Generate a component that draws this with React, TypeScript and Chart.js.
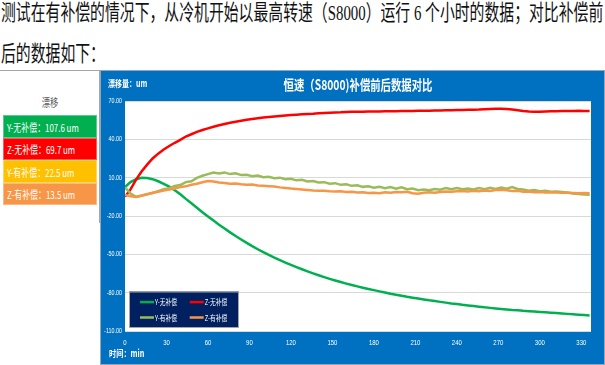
import React, { useEffect, useRef } from "react";
import { Chart, registerables } from "chart.js";

Chart.register(...registerables);

// ---------- data ----------
const MINUTES = [
  0, 4, 8, 12, 16, 20, 24, 28, 32, 36, 40, 44, 48, 52, 56, 60, 64, 68, 72, 76,
  80, 84, 88, 92, 96, 100, 104, 108, 112, 116, 120, 124, 128, 132, 136, 140,
  144, 148, 152, 156, 160, 164, 168, 172, 176, 180, 184, 188, 192, 196, 200,
  204, 208, 212, 216, 220, 224, 228, 232, 236, 240, 244, 248, 252, 256, 260,
  264, 268, 272, 276, 280, 284, 288, 292, 296, 300, 304, 308, 312, 316, 320,
  324, 328, 332, 336,
];

const Y_NO_COMP = [
  2.7, 6.5, 8.8, 9.9, 9.8, 8.8, 7.2, 5.2, 3, 0.2, -3, -6.6, -10, -13.5, -17,
  -20.3, -23.6, -26.8, -29.8, -32.8, -35.7, -38.4, -41, -43.6, -46, -48.3,
  -50.5, -52.6, -54.6, -56.5, -58.3, -60, -61.7, -63.3, -64.9, -66.4, -67.8,
  -69.2, -70.5, -71.7, -72.9, -74, -75.1, -76.1, -77.1, -78, -79, -79.9, -80.8,
  -81.6, -82.4, -83.2, -83.9, -84.6, -85.3, -86, -86.6, -87.2, -87.8, -88.4,
  -88.9, -89.5, -90, -90.5, -91, -91.5, -91.9, -92.3, -92.7, -93.1, -93.5,
  -93.8, -94.2, -94.5, -94.8, -95.1, -95.4, -95.7, -96, -96.3, -96.6, -96.9,
  -97.2, -97.5, -97.8,
];

const Z_NO_COMP = [
  -5, 0.8, 8.5, 14.8, 20.2, 25, 28.8, 32, 34.8, 37.3, 39.6, 42.2, 44, 45.8,
  47.3, 48.6, 49.8, 51, 52, 53, 53.8, 54.6, 55.3, 55.9, 56.5, 57, 57.5, 57.9,
  58.3, 58.7, 59, 59.3, 59.6, 59.9, 60.1, 60.4, 60.6, 60.8, 61, 61.1, 61.3,
  61.5, 61.6, 61.6, 61.7, 61.8, 61.8, 61.9, 62, 62, 62.1, 62.1, 62.2, 62.3,
  62.4, 62.4, 62.5, 62.6, 62.7, 62.8, 62.9, 63, 63.1, 63.2, 63.3, 63.5, 63.7,
  63.9, 64, 63.8, 63.4, 62.8, 62.1, 61.7, 61.5, 61.5, 61.7, 61.9, 62, 62.1,
  62.2, 62.2, 62.3, 62.2, 62.1,
];

const Y_WITH_COMP = [
  2.5, -2.5, -5, -4.2, -3, -2, -0.5, 1, 1.8, 3.5, 4.2, 6.5, 7.2, 9.8, 11.5,
  12.8, 14, 13.2, 14.1, 12.8, 13.4, 12, 12.3, 11.2, 11.6, 10.4, 10.7, 9.6, 10,
  8.8, 9.1, 7.9, 8.3, 7, 7.4, 6.2, 6.5, 5.3, 5.7, 4.4, 4.8, 3.6, 4, 2.8, 3.3,
  2.2, 2.8, 1.8, 2.6, 1.4, 2.4, 1, 1.5, 0.2, 0.8, 0.2, 1.2, 0.6, 1.8, 0.9, 1.9,
  1, 1.6, 0.8, 1.8, 1, 2, 1.2, 2.2, 1.4, 2.6, 1.2, 0.8, -0.2, 0.4, -0.6, -0.2,
  -1, -0.8, -1.2, -1.6, -2.4, -2.8, -3.2, -3.4,
];

const Z_WITH_COMP = [
  -3.5, -4.5, -5.2, -4, -3, -1.8, -1, 0, 0.8, 1.5, 2.6, 3.2, 4.4, 5.2, 6.4,
  7.3, 7, 6.2, 5.8, 5.2, 5.5, 4.8, 4.4, 4.6, 3.9, 3.6, 3.3, 3, 2.4, 2, 1.5,
  1.2, 0.8, 0.4, 0, -0.3, -0.2, -0.6, -0.8, -0.6, -1.2, -1, -1.6, -1.4, -2,
  -1.8, -2.2, -1.4, -1.8, -1.2, -1.5, -1, -2.2, -2.6, -1.8, -1.4, -1.8, -1.2,
  -0.8, -1, -0.6, -0.4, -0.8, -0.3, -0.6, 0, -0.4, 0.3, 0.5, 0.2, -0.4, -0.3,
  -1, -0.8, -1.4, -1.2, -1.6, -1.4, -1.6, -1.8, -1.9, -2, -2.1, -2, -2.2,
];

const SERIES_NAMES = ["Y-无补偿", "Z-无补偿", "Y-有补偿", "Z-有补偿"];
const SERIES_COLORS = ["#00B050", "#FF0000", "#9BBB59", "#F79646"];

const X_TICKS = [0, 30, 60, 90, 120, 150, 180, 210, 240, 270, 300, 330];
const X_MAX = 337;
const Y_MIN = -110;
const Y_MAX = 70;
const Y_STEP = 30;

const CHART_TITLE = "恒速（S8000)补偿前后数据对比";
const Y_UNIT = "漂移量：um";
const X_UNIT = "时间：min";

const DRIFT_HEADER = "漂移";
const DRIFT_LABELS = ["Y-无补偿：107.6 um", "Z-无补偿：69.7 um", "Y-有补偿：22.5 um", "Z-有补偿：13.5 um"];
const DRIFT_COLORS = ["#00B050", "#FF0000", "#FFC000", "#F79646"];

const PARA_LINE1 = "测试在有补偿的情况下，从冷机开始以最高转速（S8000）运行 6 个小时的数据；对比补偿前";
const PARA_LINE2 = "后的数据如下：";

// ---------- helpers ----------
function narrowText(
  ctx: CanvasRenderingContext2D,
  text: string,
  x: number,
  y: number,
  font: string,
  color: string,
  align: CanvasTextAlign,
  sx: number
) {
  ctx.save();
  ctx.translate(x, y);
  ctx.scale(sx, 1);
  ctx.font = font;
  ctx.fillStyle = color;
  ctx.textAlign = align;
  ctx.textBaseline = "middle";
  ctx.fillText(text, 0, 0);
  ctx.restore();
}

const CJK = "'Noto Sans CJK SC', 'Noto Sans', sans-serif";

const decorPlugin = {
  id: "decor",
  beforeDraw(chart: any) {
    const { ctx, width, height, chartArea } = chart;
    ctx.save();
    ctx.fillStyle = "#0070C0";
    ctx.fillRect(0, 0, width, height);
    ctx.fillStyle = "#FFFFFF";
    ctx.fillRect(
      chartArea.left,
      chartArea.top,
      chartArea.right - chartArea.left,
      chartArea.bottom - chartArea.top
    );
    ctx.strokeStyle = "#8FA7BF";
    ctx.lineWidth = 1;
    ctx.strokeRect(0.5, 0.5, width - 1, height - 1);
    ctx.restore();
  },
  afterDraw(chart: any) {
    const { ctx, chartArea } = chart;
    const cx = (chartArea.left + chartArea.right) / 2;
    narrowText(ctx, CHART_TITLE, cx, 15, `bold 14px ${CJK}`, "#FFFFFF", "center", 0.74);
    narrowText(ctx, Y_UNIT, 8, 14, `bold 9px ${CJK}`, "#FFFFFF", "left", 0.78);
    narrowText(ctx, X_UNIT, 9, 284, `bold 9px ${CJK}`, "#FFFFFF", "left", 0.8);

    // axis tick labels (from the scales)
    const ys = chart.scales.y;
    ys.ticks.forEach((t: any) => {
      narrowText(
        ctx,
        Number(t.value).toFixed(2),
        chartArea.left - 3,
        ys.getPixelForValue(t.value),
        "7.5px 'Liberation Sans', sans-serif",
        "#FFFFFF",
        "right",
        0.72
      );
    });
    const xs = chart.scales.x;
    xs.ticks.forEach((t: any) => {
      narrowText(
        ctx,
        String(t.value),
        xs.getPixelForValue(t.value),
        chartArea.bottom + 12,
        "7.5px 'Liberation Sans', sans-serif",
        "#FFFFFF",
        "center",
        0.8
      );
    });

    // inner legend
    const bx = chartArea.left + 4;
    const by = chartArea.bottom - 39.5;
    const bw = 110;
    const bh = 36.5;
    ctx.save();
    ctx.fillStyle = "#002060";
    ctx.fillRect(bx, by, bw, bh);
    ctx.strokeStyle = "#A6A6A6";
    ctx.lineWidth = 1;
    ctx.strokeRect(bx + 0.5, by + 0.5, bw - 1, bh - 1);
    ctx.restore();
    const ds = chart.data.datasets;
    const cols = [11, 60.7];
    const rows = [10.6, 26];
    ds.forEach((d: any, i: number) => {
      const lx = bx + cols[i % 2];
      const ly = by + rows[Math.floor(i / 2)];
      ctx.save();
      ctx.strokeStyle = d.borderColor;
      ctx.lineWidth = 2.5;
      ctx.beginPath();
      ctx.moveTo(lx, ly);
      ctx.lineTo(lx + 14, ly);
      ctx.stroke();
      ctx.restore();
      narrowText(ctx, d.label, lx + 15, ly, `8px ${CJK}`, "#FFFFFF", "left", 0.72);
    });
  },
};

function ChartPanel() {
  const ref = useRef<HTMLCanvasElement | null>(null);
  useEffect(() => {
    if (!ref.current) return;
    const series = [Y_NO_COMP, Z_NO_COMP, Y_WITH_COMP, Z_WITH_COMP];
    const chart = new Chart(ref.current, {
      type: "line",
      data: {
        datasets: series.map((vals, i) => ({
          label: SERIES_NAMES[i],
          data: MINUTES.map((m, j) => ({ x: m, y: vals[j] })),
          borderColor: SERIES_COLORS[i],
          backgroundColor: SERIES_COLORS[i],
          borderWidth: 2.5,
          pointRadius: 0,
          tension: 0,
          fill: false,
          order: 3 - i,
        })),
      },
      options: {
        responsive: false,
        animation: false,
        layout: { padding: { top: 31, right: 14, left: 0, bottom: 0 } },
        plugins: {
          legend: { display: false },
          title: { display: false },
          tooltip: { enabled: false },
        },
        scales: {
          x: {
            type: "linear",
            min: 0,
            max: X_MAX,
            grid: { display: false, drawTicks: false },
            border: { display: false },
            ticks: { display: false },
            afterBuildTicks: (scale: any) => {
              scale.ticks = X_TICKS.map((v) => ({ value: v }));
            },
            afterFit: (scale: any) => {
              scale.height = 34;
            },
          },
          y: {
            type: "linear",
            min: Y_MIN,
            max: Y_MAX,
            ticks: { display: false, stepSize: Y_STEP },
            grid: { color: "#D9D9D9", lineWidth: 1, drawTicks: false },
            border: { display: false },
            afterFit: (scale: any) => {
              scale.width = 25;
            },
          },
        },
      } as any,
      plugins: [decorPlugin],
    });
    return () => chart.destroy();
  }, []);
  return <canvas ref={ref} width={505} height={295} style={{ display: "block", width: 505, height: 295 }} />;
}

export default function App() {
  const paraStyle: React.CSSProperties = {
    position: "absolute",
    left: 1,
    whiteSpace: "nowrap",
    fontSize: 22,
    lineHeight: "22px",
    fontFamily: "'Liberation Serif', 'Noto Sans CJK SC', serif",
    color: "#111",
    transform: "scaleX(0.675)",
    transformOrigin: "0 0",
  };
  return (
    <div style={{ position: "absolute", left: 0, top: 0, width: 605, height: 365, background: "#fff", overflow: "hidden" }}>
      <div style={{ ...paraStyle, top: 2 }}>{PARA_LINE1}</div>
      <div style={{ ...paraStyle, top: 42.5 }}>{PARA_LINE2}</div>

      {/* drift summary panel */}
      <div
        style={{
          position: "absolute",
          left: 0,
          top: 70,
          width: 99,
          height: 152,
          background: "#fff",
          borderTop: "1px solid #A6A6A6",
          borderRight: "1px solid #A6A6A6",
        }}
      >
        <div
          style={{
            position: "absolute",
            left: 0,
            width: 100,
            top: 24,
            textAlign: "center",
            fontFamily: CJK,
            fontSize: 11,
            lineHeight: "14px",
            color: "#595959",
            transform: "scaleX(0.75)",
          }}
        >
          {DRIFT_HEADER}
        </div>
        {DRIFT_LABELS.map((t, i) => (
          <div
            key={t}
            style={{
              position: "absolute",
              left: 3,
              width: 94,
              top: 44 + i * 22.6,
              height: 22.6,
              background: DRIFT_COLORS[i],
              boxSizing: "border-box",
              border: "1px solid rgba(255,255,255,0.35)",
              overflow: "hidden",
            }}
          >
            <div
              style={{
                position: "absolute",
                left: 3,
                top: 3.5,
                whiteSpace: "nowrap",
                fontFamily: CJK,
                fontSize: 11,
                lineHeight: "14px",
                color: "#fff",
                transform: "scaleX(0.72)",
                transformOrigin: "0 0",
              }}
            >
              {t}
            </div>
          </div>
        ))}
      </div>

      <div style={{ position: "absolute", left: 100, top: 70 }}>
        <ChartPanel />
      </div>
    </div>
  );
}
